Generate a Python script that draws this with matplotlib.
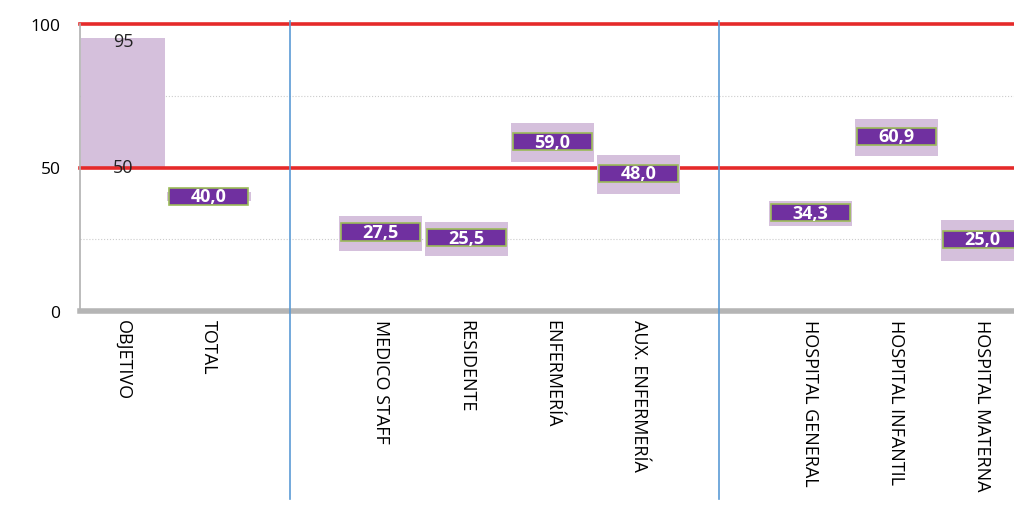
import numpy as np
import matplotlib
matplotlib.use("Agg")
import matplotlib.pyplot as plt

# Categories in plotting order; empty strings are the gaps between groups.
categories = ["OBJETIVO", "TOTAL", "",
              "MEDICO STAFF", "RESIDENTE", "ENFERMERÍA", "AUX. ENFERMERÍA", "",
              "HOSPITAL GENERAL", "HOSPITAL INFANTIL", "HOSPITAL MATERNA"]

# Target band
target_low = 50
target_high = 95

# Point estimates and interval bounds per category (None = no data / gap)
values = [None, 40.0, None, 27.5, 25.5, 59.0, 48.0, None, 34.3, 60.9, 25.0]
ci_low = [None, 38.5, None, 21.0, 19.2, 52.0, 40.8, None, 29.5, 54.1, 17.5]
ci_high = [None, 41.5, None, 33.2, 31.1, 65.5, 54.4, None, 38.2, 67.0, 31.6]

yticks = [0, 50, 100]
ref_lines = [50, 100]
minor_grid = [25, 75]

LIGHT = "#d5c0dc"
DARK = "#7030a0"
EDGE = "#9bbb59"
RED = "#e52a2a"
BLUE = "#5b9bd5"

plt.rcParams["font.family"] = ["Open Sans", "DejaVu Sans"]

fig = plt.figure(figsize=(10.14, 5.06), dpi=100)
ax = fig.add_axes([80 / 1014, 1 - 312 / 506, 1 - 80 / 1014, 287 / 506])

x = np.arange(len(categories))

# target band for OBJETIVO (kept under the red reference lines)
ax.bar(x[0], target_high - target_low, bottom=target_low, width=0.98,
       color=LIGHT, zorder=1.2)
ax.text(x[0], target_high - 1, f"{target_high}", ha="center", va="center",
        fontsize=13, color="#222222", zorder=5)
ax.text(x[0], target_low, f"{target_low}", ha="center", va="center",
        fontsize=13, color="#222222", zorder=5)

# interval boxes + value markers
box_h = 6.0
for xi, v, lo, hi in zip(x, values, ci_low, ci_high):
    if v is None:
        continue
    ax.bar(xi, hi - lo, bottom=lo, width=0.97, color=LIGHT, zorder=2)
    ax.bar(xi, box_h, bottom=v - box_h / 2, width=0.92, color=DARK,
           edgecolor=EDGE, linewidth=1.2, zorder=3)
    ax.text(xi, v, f"{v:.1f}".replace(".", ","), ha="center", va="center",
            color="white", fontsize=13, fontweight="bold", zorder=4)

# reference lines sit behind the interval boxes
for y in ref_lines:
    ax.axhline(y, color=RED, linewidth=2.6, zorder=1.5, clip_on=False)
for y in minor_grid:
    ax.axhline(y, color="#cccccc", linewidth=0.8, linestyle=":", zorder=1)

# group separators, running down through the tick label area
for i, c in enumerate(categories):
    if c == "":
        ax.plot([i - 0.06, i - 0.06], [-0.655, 1.01], color=BLUE, linewidth=1.2,
                transform=ax.get_xaxis_transform(), clip_on=False, zorder=5)

ax.set_xlim(-0.5, 10.37)
ax.set_ylim(0, 100)
ax.set_yticks(yticks)
ax.tick_params(axis="y", length=0, labelsize=12.5, pad=14)
ax.set_xticks([i for i, c in enumerate(categories) if c])
ax.set_xticklabels([c for c in categories if c], rotation=-90, fontsize=13,
                   va="top", ha="center")
ax.tick_params(axis="x", length=0, pad=6)

for side in ("top", "right"):
    ax.spines[side].set_visible(False)
ax.spines["left"].set_color("#b0b0b0")
ax.spines["left"].set_linewidth(1.2)
ax.spines["bottom"].set_color("#b5b5b5")
ax.spines["bottom"].set_linewidth(4)

fig.savefig("out.png", dpi=100)
